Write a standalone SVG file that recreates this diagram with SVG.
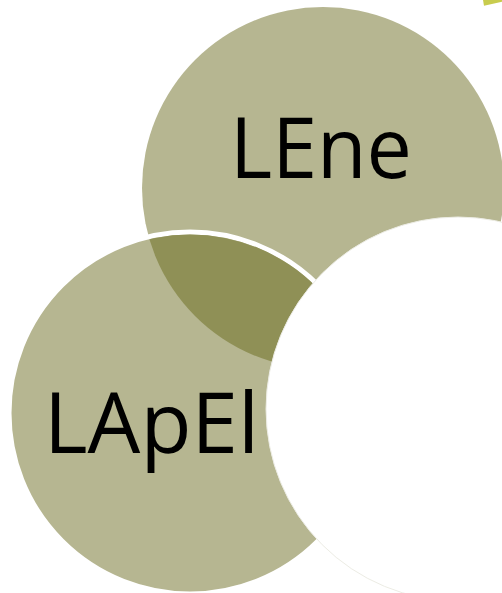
<svg xmlns="http://www.w3.org/2000/svg" width="502" height="593" viewBox="0 0 502 593">
  <defs>
    <style>
      .lite { fill: #b6b691; }
      .dark { fill: #8f9056; }
      .lbl { font-family: "Open Sans", "Noto Sans", "Liberation Sans", sans-serif; font-size: 85px; fill: #000000; }
    </style>
    <clipPath id="clipTop">
      <circle cx="323" cy="188" r="181"/>
    </clipPath>
  </defs>
  <rect x="0" y="0" width="502" height="593" fill="#ffffff"/>
  <polygon points="483,0 502,0 502,1.7 484,5.7" fill="#c8cc4e"/>
  <g id="node-lene">
    <circle class="lite" cx="323" cy="188" r="181"/>
    <text class="lbl" x="230" y="178" textLength="182" lengthAdjust="spacingAndGlyphs">LEne</text>
  </g>
  <g id="node-lapel">
    <circle class="lite" cx="190" cy="413" r="181" stroke="#ffffff" stroke-width="5"/>
    <circle class="dark" cx="190" cy="413" r="178.5" clip-path="url(#clipTop)"/>
    <text class="lbl" x="44" y="453" textLength="215" lengthAdjust="spacingAndGlyphs">LApEl</text>
  </g>
  <g id="node-third">
    <circle cx="458" cy="409" r="192" fill="#ffffff" stroke="#ecece4" stroke-width="1"/>
  </g>
  <g id="connectors"></g>
</svg>
